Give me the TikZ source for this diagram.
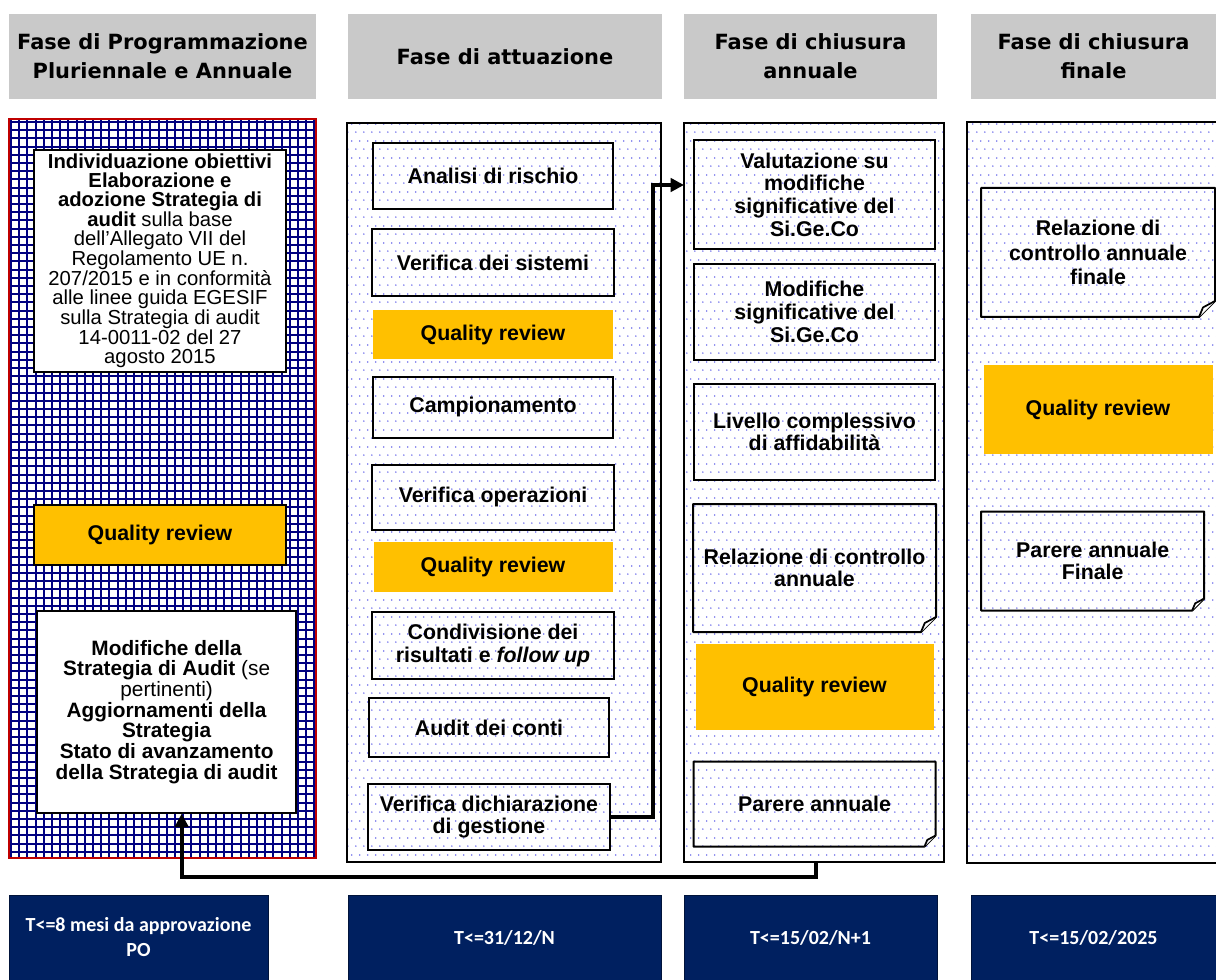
\documentclass[tikz,border=0pt]{standalone}
\usepackage{fontspec}
\setmainfont{Liberation Sans}
\newfontfamily\hdrfont{DejaVu Sans}
\newfontfamily\datefont{Carlito}
\usepackage{tikz}
\usetikzlibrary{positioning,patterns,arrows.meta,calc}
\definecolor{hdrgray}{HTML}{C9C9C9}
\definecolor{qrorange}{HTML}{FFC000}
\definecolor{datenavy}{HTML}{002060}
\definecolor{gridblue}{HTML}{000080}
\definecolor{gridred}{HTML}{C00000}
\definecolor{dotblue}{HTML}{7C7CEC}
\pgfdeclarepatternformonly{dotgrid}{\pgfqpoint{0pt}{0pt}}{\pgfqpoint{6.2pt}{12.4pt}}{\pgfqpoint{6.2pt}{12.4pt}}{%
	\pgfpathcircle{\pgfqpoint{1.5pt}{1.5pt}}{0.7pt}
	\pgfpathcircle{\pgfqpoint{4.6pt}{7.7pt}}{0.7pt}
	\pgfusepath{fill}}
\newcommand{\Fold}[2]{%
	\draw[line width=1.5pt, line join=round] (#1.north west) -- (#1.north east)
	-- ([yshift=#2*0.75pt]#1.south east) -- ([xshift=-#2*0.75pt]#1.south east)
	-- (#1.south west) -- cycle;
	\draw[line width=1.3pt, fill=white, line join=round] ([xshift=-#2*0.75pt]#1.south east)
	-- ([xshift=-0.75*#2*0.75pt, yshift=0.6*#2*0.75pt]#1.south east)
	-- ([yshift=#2*0.75pt]#1.south east);}

\begin{document}
\begin{tikzpicture}[x=0.75pt, y=-0.75pt, >={Triangle[length=10pt,width=10pt]},
	sz/.style 2 args={minimum width=#1*0.75pt, minimum height=#2*0.75pt}]
	\tikzstyle{hdr}=[fill=hdrgray, inner sep=0pt, align=center,
	font=\hdrfont\bfseries\fontsize{15.7}{21.7}\selectfont]
	\tikzstyle{col}=[draw=black, line width=1.2pt, pattern=dotgrid, pattern color=dotblue, inner sep=0pt]
	\tikzstyle{task}=[draw=black, line width=1.5pt, align=center, inner sep=2pt,
	font=\bfseries\fontsize{16}{17}\selectfont]
	\tikzstyle{note}=[task, draw=none]
	\tikzstyle{qr}=[fill=qrorange, align=center, inner sep=2pt, font=\bfseries\fontsize{16}{17}\selectfont]
	\tikzstyle{card}=[fill=white, draw=black, line width=1.5pt, align=center, inner sep=2pt]
	\tikzstyle{date}=[fill=datenavy, draw=datenavy!60!black, text=white, align=center, inner sep=0pt,
	font=\datefont\bfseries\fontsize{15}{18.75}\selectfont]
	\tikzstyle{flow}=[->, line width=2.8pt]

	\useasboundingbox (0,0) rectangle (1216,980);

	% headers
	\node[hdr, sz={307}{85}] (h1) at (162.5,56.5) {Fase di Programmazione\\Pluriennale e Annuale};
	\node[hdr, sz={314}{85}] (h2) at (505,56.5) {Fase di attuazione};
	\node[hdr, sz={253}{85}] (h3) at (810.5,56.5) {Fase di chiusura\\annuale};
	\node[hdr, sz={245}{85}] (h4) at (1093.5,56.5) {Fase di chiusura\\finale};

	% columns
	\begin{scope}[gridblue, line width=1.5pt]
		\clip (9,119) rectangle (316,858);
		\foreach \gx in {11,19.2,...,316} \draw (\gx,119) -- (\gx,858);
		\foreach \gy in {122,130.2,...,858} \draw (9,\gy) -- (316,\gy);
	\end{scope}
	\node[draw=gridred, line width=0.8pt, sz={307}{739}, inner sep=0pt] (prog) at (162.5,488.5) {};
	\node[col, sz={314}{739}] (att) at (504,492.5) {};
	\node[col, sz={260}{739}] (chi) at (814,492.5) {};
	\node[col, draw=none, sz={248}{739}] (fin) at (1092,492.5) {};
	\draw[line width=1.2pt] (fin.north east) -- (fin.north west) -- (fin.south west) -- (fin.south east);

	% programmazione
	\node[card, sz={252}{222}, font=\fontsize{15.2}{14}\selectfont] (obj) at (160,261)
	{\textbf{Individuazione obiettivi}\\\textbf{Elaborazione e}\\\textbf{adozione Strategia di}\\
		\textbf{audit} sulla base\\dell’Allegato VII del\\Regolamento UE n.\\207/2015 e in conformità\\
		alle linee guida EGESIF\\sulla Strategia di audit\\14-0011-02 del 27\\agosto 2015};
	\node[qr, draw=black, line width=1.5pt, sz={252}{60}, below=98pt of obj] (qr1) {Quality review};
	\node[card, sz={259}{202}, font=\fontsize{15.6}{15.5}\selectfont, below=33pt of qr1, xshift=5pt] (mod)
	{\textbf{Modifiche della}\\\textbf{Strategia di Audit} (se\\pertinenti)\\\textbf{Aggiornamenti della}\\
		\textbf{Strategia}\\\textbf{Stato di avanzamento}\\\textbf{della Strategia di audit}};

	% attuazione
	\node[task, sz={240}{66}] (ar) at (493,176) {Analisi di rischio};
	\node[task, sz={242}{67}, below=13.5pt of ar] (vs) {Verifica dei sistemi};
	\node[qr, sz={240}{49}, below=9.75pt of vs] (qr2a) {Quality review};
	\node[task, sz={240}{61}, below=12pt of qr2a] (camp) {Campionamento};
	\node[task, sz={242}{65}, below=18.75pt of camp] (vo) {Verifica operazioni};
	\node[qr, sz={239}{50}, below=8.25pt of vo] (qr2b) {Quality review};
	\node[task, sz={242}{67}, below=14.25pt of qr2b] (cond) {Condivisione dei\\risultati e \textit{follow up}};
	\node[task, sz={240}{59}, below=12.75pt of cond, xshift=-3pt] (adc) {Audit dei conti};
	\node[task, sz={242}{66}, below=18.75pt of adc] (vd) {Verifica dichiarazione\\di gestione};

	% chiusura annuale
	\node[task, sz={241}{109}] (val) at (814.5,194.5) {Valutazione su\\modifiche\\significative del\\Si.Ge.Co};
	\node[task, sz={241}{96}, below=9.75pt of val] (sig) {Modifiche\\significative del\\Si.Ge.Co};
	\node[task, sz={241}{96}, below=16.5pt of sig] (liv) {Livello complessivo\\di affidabilità};
	\node[note, sz={241}{126}, below=17.25pt of liv] (rel) {Relazione di controllo\\annuale};
	\node[qr, sz={238}{86}, below=9pt of rel] (qr3) {Quality review};
	\node[note, sz={240}{83}, below=23.25pt of qr3] (par) {Parere annuale};
	\Fold{rel}{15} \Fold{par}{11}

	% chiusura finale
	\node[note, sz={232}{127}, font=\bfseries\fontsize{16}{18.4}\selectfont] (rf) at (1098,252.5)
	{Relazione di\\controllo annuale\\finale};
	\node[qr, sz={229}{89}, below=36pt of rf] (qr4) {Quality review};
	\node[note, sz={221}{97}, below=42.75pt of qr4, xshift=-4pt] (paf) {Parere annuale\\Finale};
	\Fold{rf}{16} \Fold{paf}{12}

	% scadenze
	\node[date, sz={259}{85}] (d1) at (138.5,937.5) {T<=8 mesi da approvazione\\PO};
	\node[date, sz={313}{85}] (d2) at (504.5,937.5) {T<=31/12/N};
	\node[date, sz={253}{85}] (d3) at (810.5,937.5) {T<=15/02/N+1};
	\node[date, sz={245}{85}] (d4) at (1093.5,937.5) {T<=15/02/2025};

	% connettori
	\coordinate (in3) at (684,185);
	\coordinate (out3) at (816,862);
	\coordinate (in1) at ([xshift=11.25pt]mod.south);
	\draw[flow] (vd.east) -- ++(42,0) |- (in3);
	\draw[flow] (out3) -- ++(0,15) -| (in1);
\end{tikzpicture}
\end{document}
